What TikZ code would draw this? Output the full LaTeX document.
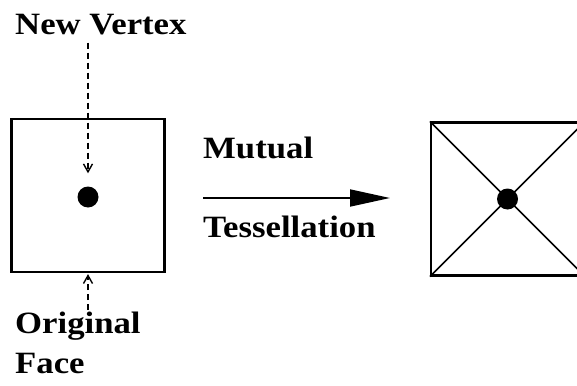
\documentclass[tikz,border=0pt]{standalone}
\usepackage{fontspec}
\setmainfont{Liberation Serif}
\usetikzlibrary{arrows.meta}
\tikzset{
  lbl/.style={inner sep=0pt, font=\fontsize{31}{40}\selectfont\bfseries},
  face/.style={draw, line width=2.2pt, minimum width=153pt, minimum height=153pt, inner sep=0pt},
  vert/.style={circle, fill=black, minimum size=21pt, inner sep=0pt},
  dasharrow/.style={dashed, dash pattern=on 6pt off 4pt, line width=1.6pt, -{Straight Barb[length=8pt,width=9pt,line width=1.4pt]}},
  diag/.style={line width=1.7pt}
}
\newcommand{\wt}[1]{\scalebox{1.12}[1]{#1}}
\begin{document}
\begin{tikzpicture}[x=1pt,y=-1pt]
\useasboundingbox (0,0) rectangle (577,385);
\clip (0,0) rectangle (577,385);
% left face
\node[face] (lbox) at (88,195.5) {};
\node[vert] (dot) at (88,197) {};
\node[lbl, anchor=base west] (nv) at (15,35) {\wt{New Vertex}};
\node[lbl, anchor=north west, align=left] (of) at (15,312) {\wt{Original}\\\wt{Face}};
\draw[dasharrow, shorten <=7pt, shorten >=13pt] (nv.south -| dot) -- (dot.north);
\draw[dasharrow, shorten <=2pt, shorten >=1pt] (of.north -| dot) -- (lbox.south -| dot);
% middle arrow
\node[lbl, anchor=base west] (mut) at (203,158) {\wt{Mutual}};
\node[lbl, anchor=base west] (tess) at (203,237) {\wt{Tessellation}};
\coordinate (as) at (203,198);
\coordinate (ae) at (390,198);
\draw[line width=1.8pt, -{Triangle[length=40pt,width=17pt]}] (as) -- (ae);
% right face
\node[face] (rbox) at (507.5,199) {};
\node[vert] (rdot) at (507.5,199) {};
\draw[diag] (rbox.north west) -- (rdot.center) -- (rbox.south east);
\draw[diag] (rbox.north east) -- (rdot.center) -- (rbox.south west);
\end{tikzpicture}
\end{document}
